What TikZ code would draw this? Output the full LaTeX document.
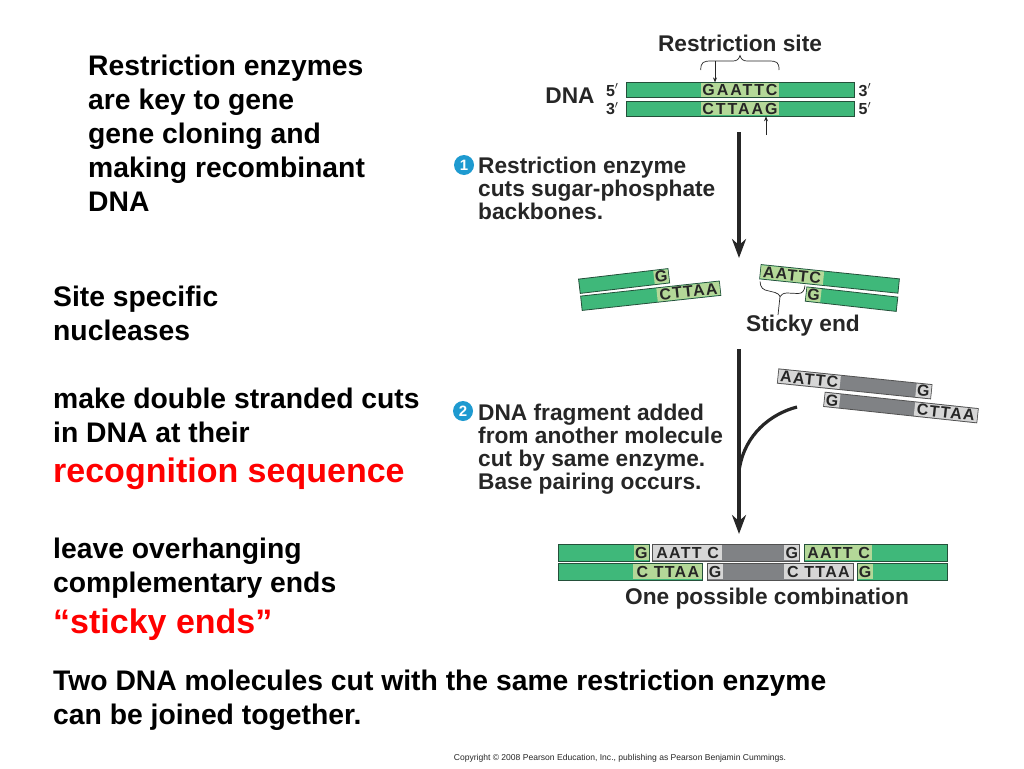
\documentclass[tikz,border=0pt]{standalone}
\usepackage{fontspec}
\setmainfont{Liberation Sans}
\newfontfamily\basefont[LetterSpace=8]{Liberation Sans}
\newfontfamily\sitefont[LetterSpace=12]{Liberation Sans}
\usetikzlibrary{arrows.meta}
\definecolor{dnagreen}{HTML}{3FB87A}
\definecolor{dnapale}{HTML}{B4D898}
\definecolor{dnagray}{HTML}{808285}
\definecolor{dnalight}{HTML}{D6D6D6}
\definecolor{inkdark}{HTML}{262626}
\definecolor{edgegreen}{HTML}{24503A}
\definecolor{stepblue}{HTML}{1E9AD0}

\begin{document}
\begin{tikzpicture}[x=1pt,y=-1pt]
        % Define styles for shapes
        \tikzstyle{bigtext} = [anchor=north west, inner sep=0pt, align=left, font=\fontsize{28.3}{34}\selectfont\bfseries]
        \tikzstyle{redtext} = [anchor=west, inner sep=0pt, text=red, font=\fontsize{34}{40}\selectfont\bfseries]
        \tikzstyle{figtext} = [inner sep=0pt, text=inkdark, font=\fontsize{22.7}{23}\selectfont\bfseries]
        \tikzstyle{steptext} = [figtext, anchor=north west, align=left]
        \tikzstyle{endmark} = [inner sep=0pt, text=inkdark, font=\fontsize{16}{16}\selectfont\bfseries]
        \tikzstyle{stepdot} = [circle, fill=stepblue, text=white, inner sep=0pt, minimum size=20pt, font=\fontsize{15}{15}\selectfont\bfseries]
        \tikzstyle{greenbar} = [draw=edgegreen, fill=dnagreen, line width=.8pt, inner sep=0pt, minimum height=14.4pt]
        \tikzstyle{graybar} = [draw=inkdark!80, fill=dnagray, line width=.8pt, inner sep=0pt, minimum height=14.4pt]
        \tikzstyle{palebox} = [fill=dnapale, inner sep=0pt, outer sep=.8pt, minimum height=13.2pt, text=inkdark, font=\fontsize{16}{16}\selectfont\basefont\bfseries]
        \tikzstyle{lightbox} = [palebox, fill=dnalight]
        \tikzstyle{sitebox} = [palebox, font=\fontsize{16}{16}\selectfont\sitefont\bfseries]
        \tikzstyle{tallbar} = [minimum height=16.4pt]
        \tikzstyle{tallbox} = [minimum height=15.2pt]
        \tikzstyle{bigarrow} = [line width=3.5pt, draw=inkdark, -{Stealth[length=19pt,width=14pt]}]
        \tikzstyle{thinarrow} = [line width=.7pt, draw=inkdark, -{Stealth[length=5pt,width=4pt]}]
        \tikzstyle{bracket} = [line width=.7pt, draw=inkdark]
        \useasboundingbox (0,0) rectangle (1024,768);

        % Left column
        \node[bigtext] (intro) at (88,55) {Restriction enzymes\\are key to gene\\gene cloning and\\making recombinant\\DNA};
        \node[bigtext] (nuclease) at (53,285.5) {Site specific\\nucleases};
        \node[bigtext] (cuts) at (53,387.5) {make double stranded cuts\\in DNA at their};
        \node[redtext] (recog) at (53,474) {recognition sequence};
        \node[bigtext] (leave) at (53,537.5) {leave overhanging\\complementary ends};
        \node[redtext] (sticky) at (53,625) {“sticky ends”};
        \node[bigtext] (joined) at (53,669.5) {Two DNA molecules cut with the same restriction enzyme\\can be joined together.};

        % Uncut DNA
        \node[figtext] (site) at (740,43) {Restriction site};
        \node[figtext] (dna) at (570,96) {DNA};
        \node[greenbar, minimum width=228pt, anchor=west] (top) at (625.7,90) {};
        \node[greenbar, minimum width=228pt, anchor=west] (bottom) at (625.7,108.7) {};
        \node[sitebox, minimum width=78pt] (topsite) at (740,90) {GAATTC};
        \node[sitebox, minimum width=78pt] (bottomsite) at (740,108.7) {CTTAAG};
        \node[endmark, left=7pt] (fivea) at (top.west) {5$'$};
        \node[endmark, left=7pt] (threea) at (bottom.west) {3$'$};
        \node[endmark, right=4pt] (threeb) at (top.east) {3$'$};
        \node[endmark, right=4pt] (fiveb) at (bottom.east) {5$'$};
        \coordinate (siteleft) at (700.7,70);
        \coordinate (siteright) at (779,70);
        \coordinate (cuttop) at (715,61);
        \coordinate (cutbottom) at (766,135);
        \draw[bracket] (siteleft) .. controls (701,62) and (703,61) .. (712,61) -- (733,61) .. controls (737,61) and (739,59) .. (740,55.5) .. controls (741,59) and (743,61) .. (747,61) -- (768,61) .. controls (777,61) and (779,62) .. (siteright);
        \draw[thinarrow] (cuttop) -- (cuttop |- top.north);
        \draw[thinarrow] (cutbottom) -- (cutbottom |- bottom.south);

        % Step 1
        \node[stepdot] (dotone) at (464,165) {1};
        \node[steptext] (stepone) at (478,157) {Restriction enzyme\\cuts sugar-phosphate\\backbones.};
        \coordinate (arrowone) at (739,132);
        \coordinate (arrowoneend) at (739,258);
        \draw[bigarrow] (arrowone) -- (arrowoneend);

        % Cut fragments
        \node[greenbar, minimum width=90pt, rotate=6.7, anchor=west] (lefttop) at (579,286.3) {};
        \node[palebox, minimum width=14.5pt, rotate=6.7, anchor=east] (lefttopend) at (lefttop.east) {G};
        \node[greenbar, minimum width=139.5pt, rotate=6.2, anchor=west] (leftbottom) at (581,303.3) {};
        \node[palebox, minimum width=63pt, rotate=6.2, anchor=east] (leftbottomend) at (leftbottom.east) {CTTAA};
        \node[greenbar, minimum width=139pt, rotate=-5.9, anchor=west] (righttop) at (760,271.7) {};
        \node[palebox, minimum width=63pt, rotate=-5.9, anchor=west] (righttopend) at (righttop.west) {AATTC};
        \node[greenbar, minimum width=91.5pt, rotate=-6.4, anchor=west] (rightbottom) at (805.7,294) {};
        \node[palebox, minimum width=14.5pt, rotate=-6.4, anchor=west] (rightbottomend) at (rightbottom.west) {G};
        \node[figtext] (stickyend) at (803,326) {Sticky end};
        \coordinate (stickyleft) at (760,281.5);
        \coordinate (stickyright) at (805,285.5);
        \coordinate (stickytip) at (780,296.5);
        \coordinate (stickyfoot) at (778,315);
        \draw[bracket] (stickyleft) .. controls (760.5,288) and (763,290) .. (769,291) -- (775,292.5) .. controls (778,293.2) and (779.5,295) .. (stickytip) .. controls (781,295) and (783,293) .. (787,293) -- (798,293.5) .. controls (803,293.7) and (804.5,290) .. (stickyright);
        \draw[bracket] (stickytip) -- (stickyfoot);

        % Step 2
        \coordinate (arrowtwo) at (739,349);
        \coordinate (arrowtwoend) at (739,534);
        \coordinate (bendstart) at (797,407);
        \coordinate (bendend) at (739.5,468);
        \draw[bigarrow] (arrowtwo) -- (arrowtwoend);
        \draw[line width=3.2pt, draw=inkdark] (bendstart) .. controls (770,414) and (745,435) .. (bendend);
        \node[graybar, minimum width=154pt, rotate=-5.85, anchor=west] (newtop) at (777.7,376) {};
        \node[lightbox, minimum width=62pt, rotate=-5.85, anchor=west] (newtopleft) at (newtop.west) {AATTC};
        \node[lightbox, minimum width=15pt, rotate=-5.85, anchor=east] (newtopright) at (newtop.east) {G};
        \node[graybar, minimum width=154pt, rotate=-6.1, anchor=west] (newbottom) at (824,399.3) {};
        \node[lightbox, minimum width=15pt, rotate=-6.1, anchor=west] (newbottomleft) at (newbottom.west) {G};
        \node[lightbox, minimum width=63pt, rotate=-6.1, anchor=east] (newbottomright) at (newbottom.east) {CTTAA};
        \node[stepdot] (dottwo) at (463,411) {2};
        \node[steptext] (steptwo) at (478,403.5) {DNA fragment added\\from another molecule\\cut by same enzyme.\\Base pairing occurs.};

        % Joined molecule
        \node[greenbar, tallbar, minimum width=91pt, anchor=west] (rowa) at (558,552.7) {};
        \node[palebox, tallbox, minimum width=15.5pt, anchor=east] (rowapale) at (rowa.east) {G};
        \node[graybar, tallbar, minimum width=147pt, anchor=west] (rowb) at (652.3,552.7) {};
        \node[lightbox, tallbox, minimum width=69pt, anchor=west] (rowbleft) at (rowb.west) {AATT C};
        \node[lightbox, tallbox, minimum width=15pt, anchor=east] (rowbright) at (rowb.east) {G};
        \node[greenbar, tallbar, minimum width=143pt, anchor=west] (rowc) at (804.3,552.7) {};
        \node[palebox, tallbox, minimum width=67pt, anchor=west] (rowcpale) at (rowc.west) {AATT C};
        \node[greenbar, tallbar, minimum width=144.3pt, anchor=west] (rowd) at (558,571.8) {};
        \node[palebox, tallbox, minimum width=69pt, anchor=east] (rowdpale) at (rowd.east) {C TTAA};
        \node[graybar, tallbar, minimum width=146pt, anchor=west] (rowe) at (706.7,571.8) {};
        \node[lightbox, tallbox, minimum width=15pt, anchor=west] (roweleft) at (rowe.west) {G};
        \node[lightbox, tallbox, minimum width=68.5pt, anchor=east] (roweright) at (rowe.east) {C TTAA};
        \node[greenbar, tallbar, minimum width=90.6pt, anchor=west] (rowf) at (856.7,571.8) {};
        \node[palebox, tallbox, minimum width=15pt, anchor=west] (rowfpale) at (rowf.west) {G};
        \node[figtext] (combination) at (767,599) {One possible combination};

        % Copyright line
        \node[inner sep=0pt, text=inkdark, font=\fontsize{8.55}{9}\selectfont] (credit) at (620,758) {Copyright © 2008 Pearson Education, Inc., publishing as Pearson Benjamin Cummings.};
    \end{tikzpicture}
\end{document}
